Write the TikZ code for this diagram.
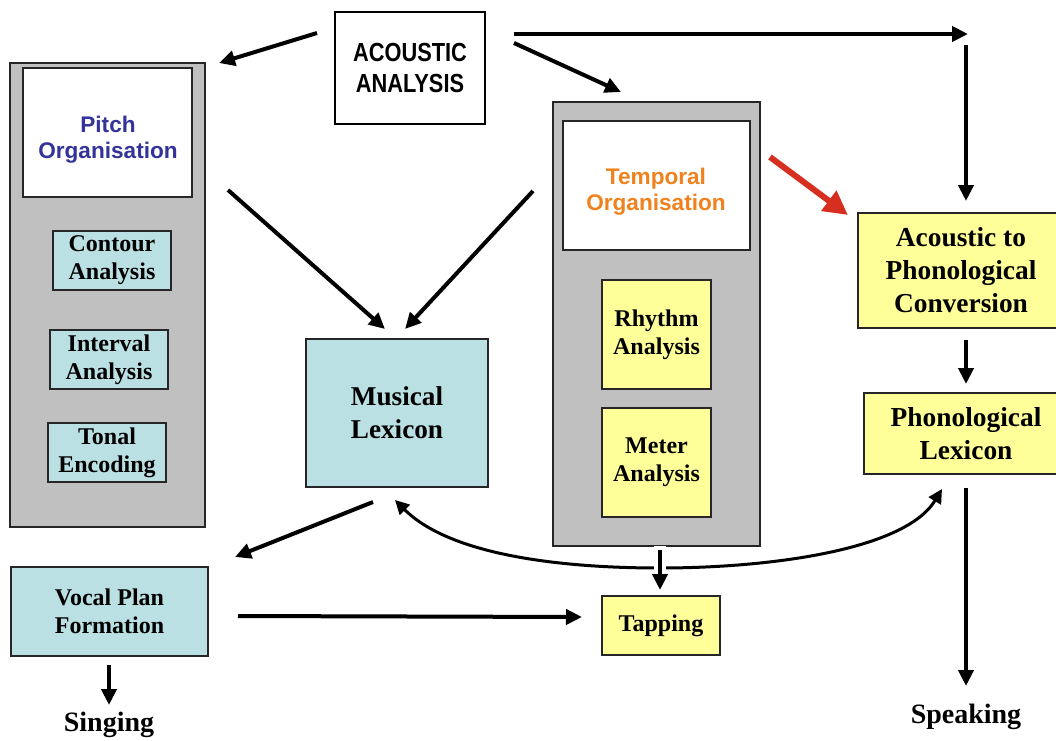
\documentclass[tikz,border=0pt]{standalone}
\usepackage{fontspec}
\setmainfont{Liberation Serif}
\setsansfont{Liberation Sans}
\usepackage{graphicx}
\usetikzlibrary{arrows.meta}
\definecolor{panelgray}{HTML}{C0C0C0}
\definecolor{lblue}{HTML}{BBE0E3}
\definecolor{lyellow}{HTML}{FFFF99}
\definecolor{pitchblue}{HTML}{333399}
\definecolor{temporange}{HTML}{F0821E}
\definecolor{redarrow}{HTML}{D62F1F}
\newcommand{\bx}[7]{\node[#6, minimum width={(#4-#2)*0.5pt}, minimum height={(#5-#3)*0.5pt}] (#1) at ({(#2+#4)/2},{(#3+#5)/2}) {#7};}
\newcommand{\vst}[1]{\scalebox{1}[1.2]{#1}}
\begin{document}
\begin{tikzpicture}[x=0.5pt,y=-0.5pt,
  every node/.style={inner sep=0pt, outer sep=0pt},
  boxbase/.style={draw=black!85, line width=0.75pt, align=center},
  panel/.style={boxbase, fill=panelgray},
  whitebox/.style={boxbase, fill=white, font=\sffamily\bfseries\fontsize{11.3}{13}\selectfont},
  bluebox/.style={boxbase, fill=lblue, font=\bfseries\fontsize{12}{14}\selectfont},
  yellowbox/.style={boxbase, fill=lyellow, font=\bfseries\fontsize{12}{14}\selectfont},
  bigtext/.style={font=\bfseries\fontsize{13.7}{16.5}\selectfont},
  outtext/.style={font=\bfseries\fontsize{14}{16}\selectfont},
  arr/.style={line width=2pt, -{Triangle[length=8pt,width=7.5pt]}},
  redarr/.style={line width=3pt, draw=redarrow, -{Triangle[length=12pt,width=12pt]}},
  curvearr/.style={line width=1.5pt, {Triangle[length=7pt,width=7pt]}-{Triangle[length=7pt,width=7pt]}}
]
\useasboundingbox (0,0) rectangle (1056,740);
\clip (0,0) rectangle (1056,740);
\fill[white] (0,0) rectangle (1056,740);

% Acoustic analysis
\bx{acoustic}{335}{12}{485}{124}{draw=black, line width=1.25pt, align=center, font=\sffamily\bfseries\fontsize{10.9}{15.5}\selectfont}{\vst{ACOUSTIC}\\\vst{ANALYSIS}}

% Pitch panel
\bx{pitchpanel}{10}{63}{205}{527}{panel}{}
\bx{pitchorg}{23}{68}{192}{197}{whitebox}{}
\node[font=\sffamily\bfseries\fontsize{11.3}{13}\selectfont, text=pitchblue, align=center] (pitchtxt) at (108,140) {Pitch\\Organisation};
\bx{contour}{53}{231}{171}{290}{bluebox}{Contour\\Analysis}
\bx{interval}{50}{330}{168}{389}{bluebox}{Interval\\Analysis}
\bx{tonal}{48}{423}{166}{482}{bluebox}{Tonal\\Encoding}

% Temporal panel
\bx{temppanel}{553}{102}{760}{546}{panel}{}
\bx{temporg}{563}{121}{750}{250}{whitebox}{}
\node[font=\sffamily\bfseries\fontsize{11.3}{13}\selectfont, text=temporange, align=center] (temptxt) at (656,192) {Temporal\\Organisation};
\bx{rhythm}{602}{280}{711}{389}{yellowbox}{Rhythm\\Analysis}
\bx{meter}{602}{408}{711}{517}{yellowbox}{Meter\\Analysis}

% Musical lexicon
\bx{musical}{306}{339}{488}{487}{boxbase, fill=lblue, font=\bfseries\fontsize{13.6}{16.5}\selectfont}{Musical\\Lexicon}

% Right column
\bx{apc}{858}{213}{1064}{328}{yellowbox, bigtext}{Acoustic to\\Phonological\\Conversion}
\bx{phonlex}{864}{393}{1068}{474}{yellowbox, bigtext}{Phonological\\Lexicon}

% Bottom
\bx{vocal}{11}{567}{208}{656}{bluebox}{Vocal Plan\\Formation}
\bx{tapping}{602}{596}{720}{655}{yellowbox}{Tapping}
\node[outtext] (singing) at (109,725) {Singing};
\node[outtext] (speaking) at (966,717) {Speaking};

% connector end points
\coordinate (a1s) at (317,33);
\coordinate (a1e) at (219,63);
\coordinate (a2s) at (514,43);
\coordinate (a2e) at (621,92);
\coordinate (a3s) at (514,34);
\coordinate (a3e) at (968,34);
\coordinate (a4s) at (966,45);
\coordinate (a4e) at (966,201);
\coordinate (a5s) at (228,190);
\coordinate (a5e) at (385,329);
\coordinate (a6s) at (533,191);
\coordinate (a6e) at (405,329);
\coordinate (a7s) at (770,157);
\coordinate (a7e) at (848,215);
\coordinate (a8s) at (966,340);
\coordinate (a8e) at (966,384);
\coordinate (a9s) at (966,488);
\coordinate (a9e) at (966,686);
\coordinate (a10s) at (373,502);
\coordinate (a10e) at (235,557);
\coordinate (a11s) at (238,616);
\coordinate (a11e) at (582,617);
\coordinate (a12s) at (660,550);
\coordinate (a12e) at (660,590);
\coordinate (a13s) at (109,665);
\coordinate (a13e) at (109,705);
\coordinate (cs) at (395,500);
\coordinate (cm) at (660,568);
\coordinate (ce) at (942,489);

\draw[arr] (a1s) -- (a1e);
\draw[arr] (a2s) -- (a2e);
\draw[arr] (a3s) -- (a3e);
\draw[arr] (a4s) -- (a4e);
\draw[arr] (a5s) -- (a5e);
\draw[arr] (a6s) -- (a6e);
\draw[redarr] (a7s) -- (a7e);
\draw[arr] (a8s) -- (a8e);
\draw[arr] (a9s) -- (a9e);
\draw[arr] (a10s) -- (a10e);
\draw[arr] (a11s) -- (a11e);
\draw[arr] (a13s) -- (a13e);

% curved double arrow
\draw[curvearr] (cs) .. controls (450,555) and (560,568) .. (cm) .. controls (770,568) and (905,550) .. (ce);

% tapping arrow with white gap
\draw[white, line width=6pt] (660,546) -- (660,578);
\draw[arr] (a12s) -- (a12e);
\end{tikzpicture}
\end{document}
